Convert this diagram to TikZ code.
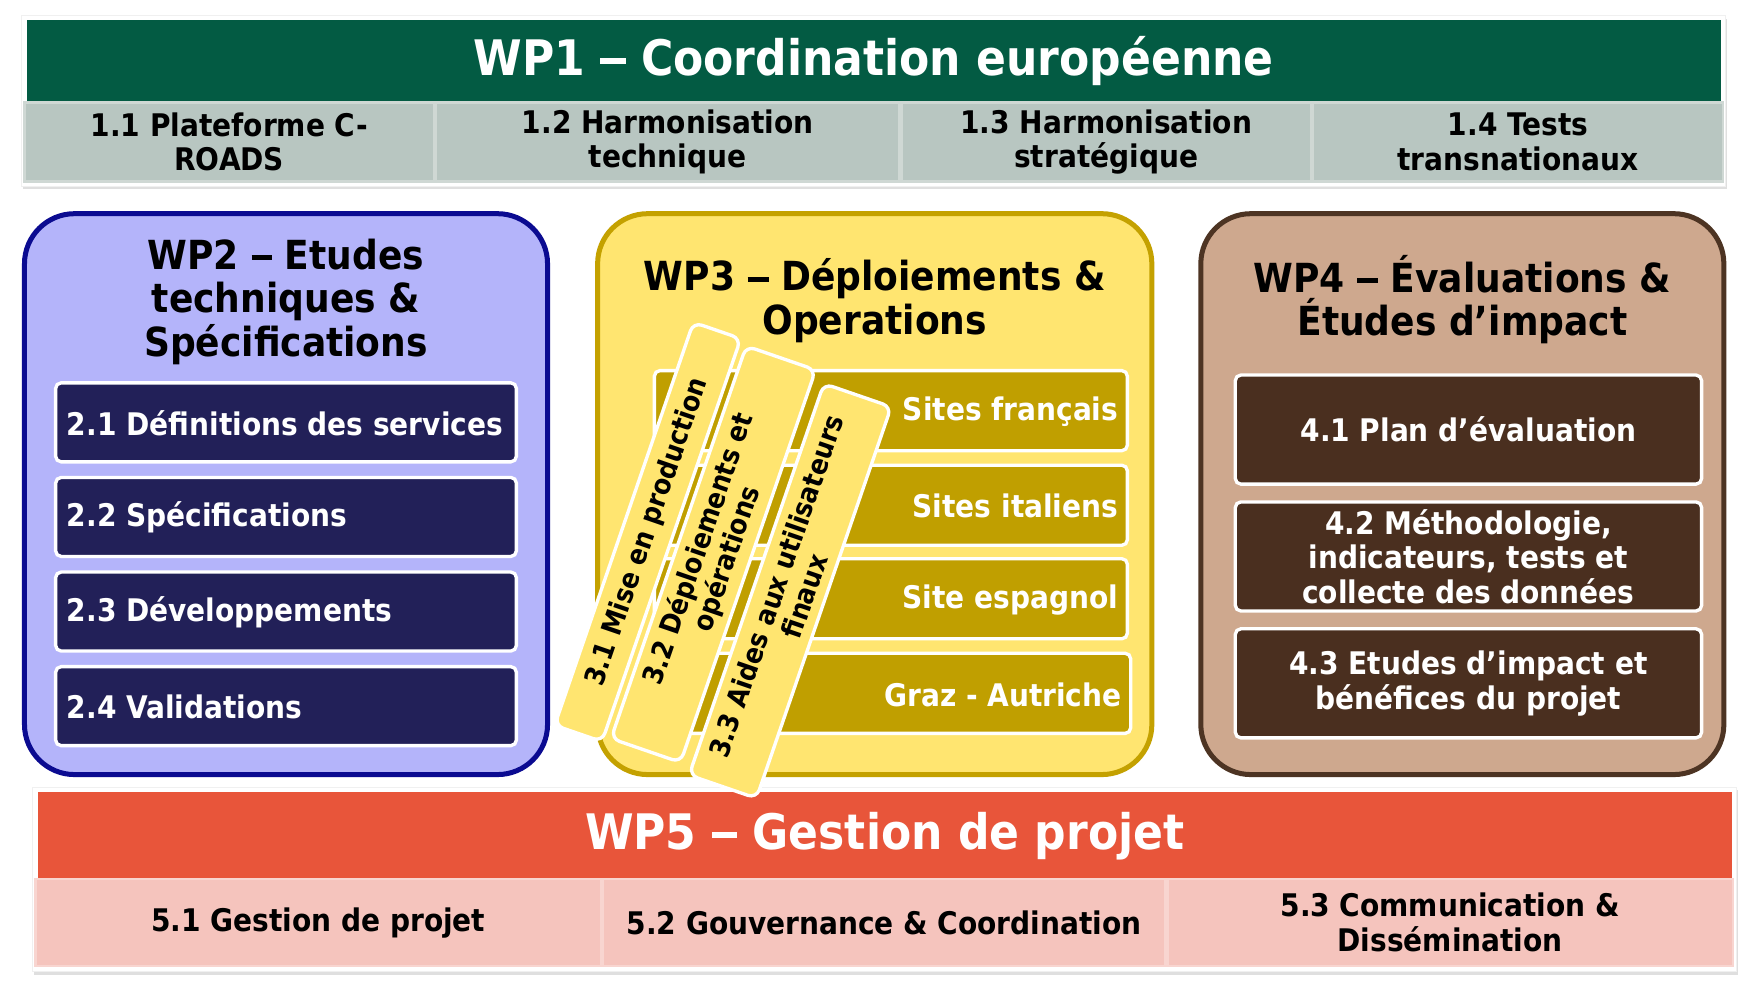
\documentclass[tikz,border=0pt]{standalone}
\usepackage{fontspec}
\newfontfamily\tah{DejaVu Sans Condensed Bold}
\usetikzlibrary{shadows}
\newcommand\wpdash{\rule[0.22em]{0.52em}{0.13em}}
\definecolor{wpgreen}{HTML}{035B43}
\definecolor{wpgray}{HTML}{B8C6C1}
\definecolor{wpgrayline}{HTML}{CFD8D4}
\definecolor{wpblue}{HTML}{0B0B91}
\definecolor{wplav}{HTML}{B4B4FA}
\definecolor{wpnavy}{HTML}{222058}
\definecolor{wpgold}{HTML}{C4A100}
\definecolor{wpyellow}{HTML}{FFE570}
\definecolor{wpsite}{HTML}{C09F00}
\definecolor{wpbrown}{HTML}{4D3423}
\definecolor{wptan}{HTML}{CEA88E}
\definecolor{wpdark}{HTML}{4A2F1F}
\definecolor{wpred}{HTML}{E8553A}
\definecolor{wppink}{HTML}{F5C4BD}
\definecolor{wppinkline}{HTML}{F8D5D0}
\tikzset{
  frame/.style={fill=white, draw=black!6, inner sep=0pt, drop shadow={opacity=0.25, shadow xshift=2pt, shadow yshift=-3pt}},
  bar/.style={inner sep=0pt, text=white, font=\tah\fontsize{44}{48}\selectfont},
  cellA/.style={fill=wpgray, draw=wpgrayline, line width=2pt, inner sep=0pt, align=center, font=\tah\fontsize{28}{31}\selectfont},
  cellB/.style={fill=wppink, draw=wppinkline, line width=2pt, inner sep=0pt, align=center, font=\tah\fontsize{28}{31}\selectfont},
  wpbox/.style={rounded corners=45pt, line width=4.5pt, inner sep=0pt, minimum width=470pt, minimum height=504pt},
  wptitle/.style={align=center, inner sep=0pt, font=\tah\fontsize{36}{39}\selectfont},
  taskbox/.style={rounded corners=5pt, draw=white, line width=3pt, inner sep=0pt, text=white},
  tasktext/.style={inner sep=0pt, text=white, font=\tah\fontsize{28}{31}\selectfont, align=center},
  rotbox/.style={rotate=71, rounded corners=8pt, fill=wpyellow, draw=white, line width=3pt, inner sep=0pt, align=center, font=\tah\fontsize{25}{27}\selectfont}
}
\begin{document}
\begin{tikzpicture}[x=1pt,y=-1pt]
\useasboundingbox[fill=white] (0,0) rectangle (1568,884);
% WP1
\node[frame, minimum width=1531pt, minimum height=153pt] (wp1frame) at (784.5,90.5) {};
\node[bar, fill=wpgreen, minimum width=1522pt, minimum height=73pt] (wp1bar) at (785,54.5) {WP1 \wpdash{} Coordination européenne};
\node[cellA, minimum width=368pt, minimum height=71pt] (t11) at (206,127.5) {1.1 Plateforme C-\\ROADS};
\node[cellA, minimum width=416pt, minimum height=71pt] (t12) at (600,127.5) {1.2 Harmonisation\\technique};
\node[cellA, minimum width=368pt, minimum height=71pt] (t13) at (994,127.5) {1.3 Harmonisation\\stratégique};
\node[cellA, minimum width=368pt, minimum height=71pt] (t14) at (1364,127.5) {1.4 Tests\\transnationaux};
% WP2
\node[wpbox, draw=wpblue, fill=wplav] (wp2) at (257,444) {};
\node[wptitle] (wp2t) at (257,271) {WP2 \wpdash{} Etudes\\techniques \&\\Spécifications};
\node[taskbox, fill=wpnavy, minimum width=414pt, minimum height=71pt] (t21) at (257,379.5) {};
\node[taskbox, fill=wpnavy, minimum width=414pt, minimum height=71pt] (t22) at (257,464.5) {};
\node[taskbox, fill=wpnavy, minimum width=414pt, minimum height=71pt] (t23) at (257,549.5) {};
\node[taskbox, fill=wpnavy, minimum width=414pt, minimum height=71pt] (t24) at (257,634.5) {};
\node[tasktext, anchor=west] (t21t) at (60,380) {2.1 Définitions des services};
\node[tasktext, anchor=west] (t22t) at (60,465) {2.2 Spécifications};
\node[tasktext, anchor=west] (t23t) at (60,550) {2.3 Développements};
\node[tasktext, anchor=west] (t24t) at (60,635) {2.4 Validations};
% WP3
\node[wpbox, draw=wpgold, fill=wpyellow, minimum width=498pt] (wp3) at (786,444) {};
\node[wptitle] (wp3t) at (786,270) {WP3 \wpdash{} Déploiements \&\\Operations};
\node[taskbox, fill=wpsite, minimum width=425pt, minimum height=72pt] (s1) at (800.5,369) {};
\node[taskbox, fill=wpsite, minimum width=425pt, minimum height=72pt] (s2) at (800.5,454) {};
\node[taskbox, fill=wpsite, minimum width=425pt, minimum height=72pt] (s3) at (800.5,538) {};
\node[taskbox, fill=wpsite, minimum width=428pt, minimum height=72pt] (s4) at (802,623) {};
\node[tasktext, anchor=east] (s1t) at (1005,370) {Sites français};
\node[tasktext, anchor=east] (s2t) at (1005,455) {Sites italiens};
\node[tasktext, anchor=east] (s3t) at (1005,539) {Site espagnol};
\node[tasktext, anchor=east] (s4t) at (1008,624) {Graz - Autriche};
% WP4
\node[wpbox, draw=wpbrown, fill=wptan] (wp4) at (1314,444) {};
\node[wptitle] (wp4t) at (1314,269) {WP4 \wpdash{} Évaluations \&\\Études d’impact};
\node[taskbox, fill=wpdark, minimum width=419pt, minimum height=98pt, tasktext] (t41) at (1319.5,386) {4.1 Plan d’évaluation};
\node[taskbox, fill=wpdark, minimum width=419pt, minimum height=98pt, tasktext] (t42) at (1319.5,500) {4.2 Méthodologie,\\indicateurs, tests et\\collecte des données};
\node[taskbox, fill=wpdark, minimum width=419pt, minimum height=98pt, tasktext] (t43) at (1319.5,614) {4.3 Etudes d’impact et\\bénéfices du projet};
% WP5
\node[frame, minimum width=1531pt, minimum height=166pt] (wp5frame) at (794.5,790) {};
\node[bar, fill=wpred, minimum width=1522pt, minimum height=78pt] (wp5bar) at (795,751) {WP5 \wpdash{} Gestion de projet};
\node[cellB, minimum width=508pt, minimum height=78pt] (t51) at (286,829) {5.1 Gestion de projet};
\node[cellB, minimum width=505pt, minimum height=78pt] (t52) at (794.5,829) {5.2 Gouvernance \& Coordination};
\node[cellB, minimum width=508pt, minimum height=78pt] (t53) at (1303,829) {5.3 Communication \&\\Dissémination};
% WP3 rotated tasks
\node[rotbox, minimum width=383pt, minimum height=45pt] (t31) at (582,478) {3.1 Mise en production};
\node[rotbox, minimum width=373pt, minimum height=66pt] (t32) at (641,498) {3.2 Déploiements et\\opérations};
\node[rotbox, minimum width=372pt, minimum height=64pt] (t33) at (710,531) {3.3 Aides aux utilisateurs\\finaux};
\end{tikzpicture}
\end{document}
